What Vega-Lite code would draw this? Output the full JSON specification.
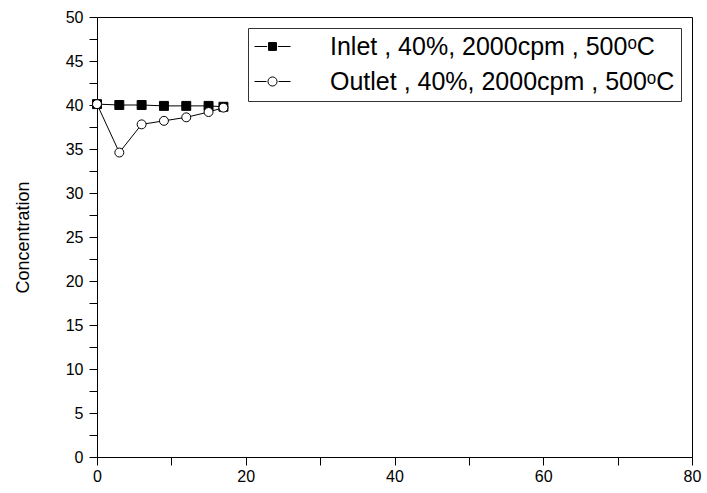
{
  "$schema": "https://vega.github.io/schema/vega-lite/v6.json",
  "width": 595,
  "height": 440,
  "autosize": {"type": "none"},
  "padding": {"left": 97, "top": 17, "right": 15, "bottom": 36},
  "background": "white",
  "config": {
    "font": "Liberation Sans",
    "view": {"stroke": "black", "strokeWidth": 1},
    "axis": {
      "grid": false,
      "domainColor": "black",
      "tickColor": "black",
      "labelColor": "black",
      "titleColor": "black",
      "labelFontSize": 16,
      "tickSize": 8,
      "labelFlush": false,
      "labelOverlap": false
    }
  },
  "data": {
    "values": [
      {"series": "Inlet , 40%, 2000cpm , 500ᵒC", "time": 0, "conc": 40.1},
      {"series": "Inlet , 40%, 2000cpm , 500ᵒC", "time": 3, "conc": 40.0},
      {"series": "Inlet , 40%, 2000cpm , 500ᵒC", "time": 6, "conc": 40.0},
      {"series": "Inlet , 40%, 2000cpm , 500ᵒC", "time": 9, "conc": 39.9},
      {"series": "Inlet , 40%, 2000cpm , 500ᵒC", "time": 12, "conc": 39.9},
      {"series": "Inlet , 40%, 2000cpm , 500ᵒC", "time": 15, "conc": 39.9},
      {"series": "Inlet , 40%, 2000cpm , 500ᵒC", "time": 17, "conc": 39.8},
      {"series": "Outlet , 40%, 2000cpm , 500ᵒC", "time": 0, "conc": 40.1},
      {"series": "Outlet , 40%, 2000cpm , 500ᵒC", "time": 3, "conc": 34.6},
      {"series": "Outlet , 40%, 2000cpm , 500ᵒC", "time": 6, "conc": 37.8},
      {"series": "Outlet , 40%, 2000cpm , 500ᵒC", "time": 9, "conc": 38.2},
      {"series": "Outlet , 40%, 2000cpm , 500ᵒC", "time": 12, "conc": 38.6},
      {"series": "Outlet , 40%, 2000cpm , 500ᵒC", "time": 15, "conc": 39.2},
      {"series": "Outlet , 40%, 2000cpm , 500ᵒC", "time": 17, "conc": 39.7}
    ]
  },
  "encoding": {
    "x": {
      "field": "time",
      "type": "quantitative",
      "scale": {"domain": [0, 80], "nice": false, "zero": false},
      "axis": {
        "title": null,
        "values": [0, 10, 20, 30, 40, 50, 60, 70, 80],
        "labelExpr": "datum.value % 20 === 0 ? datum.label : ''",
        "labelPadding": 3,
        "encode": {"ticks": {"y2": {"condition": {"test": "datum.value % 20 === 0", "value": 8}, "value": 4}}}
      }
    },
    "y": {
      "field": "conc",
      "type": "quantitative",
      "scale": {"domain": [0, 50], "nice": false, "zero": false},
      "axis": {
        "title": "Concentration",
        "titleFontSize": 18,
        "titleFontWeight": "normal",
        "titlePadding": 33,
        "values": [0, 2.5, 5, 7.5, 10, 12.5, 15, 17.5, 20, 22.5, 25, 27.5, 30, 32.5, 35, 37.5, 40, 42.5, 45, 47.5, 50],
        "labelExpr": "datum.value % 5 === 0 ? format(datum.value, 'd') : ''",
        "labelPadding": 6,
        "encode": {"ticks": {"x2": {"condition": {"test": "datum.value % 5 === 0", "value": -8}, "value": -4}}}
      }
    }
  },
  "layer": [
    {
      "mark": {"type": "point", "stroke": "black", "strokeWidth": 1, "opacity": 0, "size": 80, "filled": false},
      "encoding": {
        "shape": {
          "field": "series",
          "type": "nominal",
          "scale": {
            "domain": ["Inlet , 40%, 2000cpm , 500ᵒC", "Outlet , 40%, 2000cpm , 500ᵒC"],
            "range": [
              "M-1.5,0H-0.45M0.45,0H1.5M-0.33,-0.33H0.33V0.33H-0.33ZM-0.33,-0.25H0.33M-0.33,-0.167H0.33M-0.33,-0.083H0.33M-0.33,0H0.33M-0.33,0.083H0.33M-0.33,0.167H0.33M-0.33,0.25H0.33",
              "M-1.5,0H-0.5M0.5,0H1.5M0.38,0A0.38,0.38,0,1,1,-0.38,0A0.38,0.38,0,1,1,0.38,0Z"
            ]
          },
          "legend": {
            "title": null,
            "orient": "top-right",
            "offset": 11,
            "padding": 6,
            "rowPadding": 9,
            "symbolSize": 576,
            "symbolStrokeWidth": 1,
            "symbolOpacity": 1,
            "symbolOffset": 6,
            "labelFontSize": 25,
            "labelOffset": 45,
            "labelLimit": 1000,
            "labelColor": "black",
            "strokeColor": "#333333",
            "fillColor": "white"
          }
        }
      }
    },
    {
      "mark": {"type": "line", "stroke": "black", "strokeWidth": 1},
      "encoding": {"detail": {"field": "series", "type": "nominal"}}
    },
    {
      "mark": {"type": "point", "stroke": "black", "strokeWidth": 1, "opacity": 1, "size": 80, "filled": false},
      "encoding": {
        "shape": {
          "field": "series",
          "type": "nominal",
          "scale": {"domain": ["Inlet , 40%, 2000cpm , 500ᵒC", "Outlet , 40%, 2000cpm , 500ᵒC"], "range": ["square", "circle"]},
          "legend": null
        },
        "fill": {
          "field": "series",
          "type": "nominal",
          "scale": {"domain": ["Inlet , 40%, 2000cpm , 500ᵒC", "Outlet , 40%, 2000cpm , 500ᵒC"], "range": ["black", "white"]},
          "legend": null
        }
      }
    }
  ],
  "resolve": {"scale": {"shape": "independent"}}
}
